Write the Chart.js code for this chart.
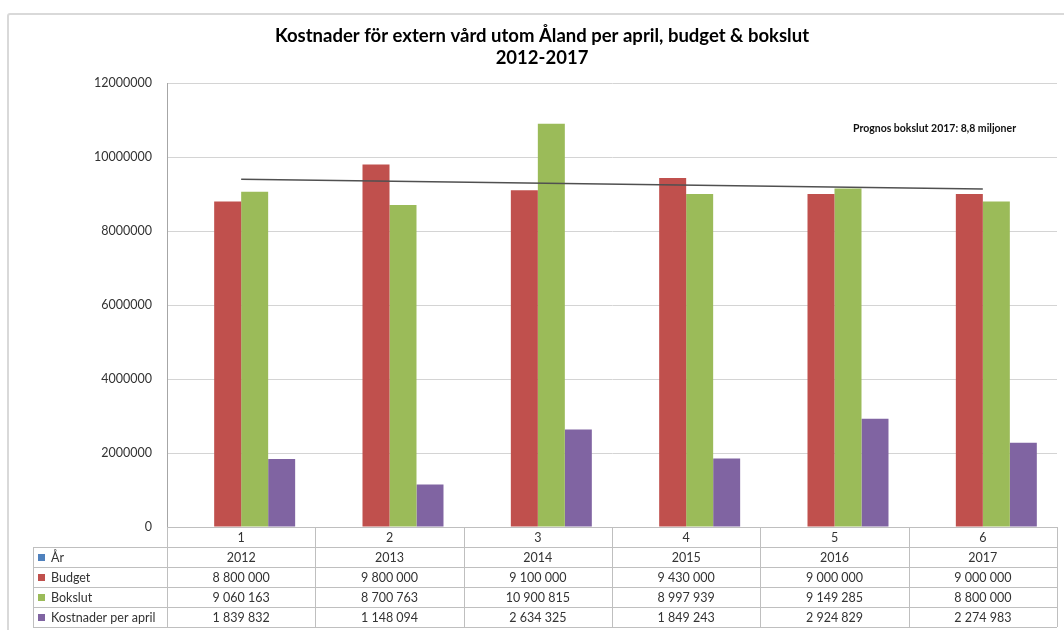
<!DOCTYPE html>
<html>
<head>
<meta charset="utf-8">
<script src="https://cdn.jsdelivr.net/npm/chart.js@4/dist/chart.umd.min.js"></script>
<style>
  body { margin: 0; background: #fff; }
  #wrap { position: relative; width: 1064px; height: 630px; overflow: hidden; }
  #frame { position: absolute; left: 7px; top: 13px; width: 1100px; height: 700px;
           border: 2px solid #d9d9d9; border-radius: 3px; }
  canvas { position: absolute; left: 0; top: 0; }
</style>
</head>
<body>
<div id="wrap">
  <div id="frame"></div>
  <canvas id="kostChart"></canvas>
</div>
<script>
const categories = ['1', '2', '3', '4', '5', '6'];
const years = [2012, 2013, 2014, 2015, 2016, 2017];
const budget = [8800000, 9800000, 9100000, 9430000, 9000000, 9000000];
const bokslut = [9060163, 8700763, 10900815, 8997939, 9149285, 8800000];
const kostnaderApril = [1839832, 1148094, 2634325, 1849243, 2924829, 2274983];
// trend line (start and end only)
const trend = [9400000, null, null, null, null, 9135000];
const yTicks = [0, 2000000, 4000000, 6000000, 8000000, 10000000, 12000000];
const titleLines = ['Kostnader för extern vård utom Åland per april, budget & bokslut', '2012-2017'];

const FONT = 'Lato, "Open Sans", sans-serif';
const fmt = v => String(v).replace(/\B(?=(\d{3})+(?!\d))/g, ' ');

const tablePlugin = {
  id: 'dataTable',
  afterDraw(chart) {
    const ctx = chart.ctx;
    const a = chart.chartArea;
    const cw = (a.right - a.left) / categories.length;
    const rowH = 20;
    const top = a.bottom;
    const left = 33;
    const rows = [
      { label: 'År', color: '#4F81BD', vals: years.map(String) },
      { label: 'Budget', color: '#C0504D', vals: budget.map(fmt) },
      { label: 'Bokslut', color: '#9BBB59', vals: bokslut.map(fmt) },
      { label: 'Kostnader per april', color: '#8064A2', vals: kostnaderApril.map(fmt) }
    ];
    ctx.save();
    ctx.strokeStyle = '#bfbfbf';
    ctx.lineWidth = 1;
    ctx.beginPath();
    ctx.moveTo(a.left, top + 0.5); ctx.lineTo(a.right, top + 0.5);
    for (let r = 1; r <= rows.length + 1; r++) {
      const y = Math.round(top + r * rowH) + 0.5;
      ctx.moveTo(left, y); ctx.lineTo(a.right, y);
    }
    for (let c = 0; c <= categories.length; c++) {
      const x = Math.round(a.left + c * cw) + 0.5;
      ctx.moveTo(x, top); ctx.lineTo(x, top + (rows.length + 1) * rowH);
    }
    ctx.moveTo(left + 0.5, top + rowH); ctx.lineTo(left + 0.5, top + (rows.length + 1) * rowH);
    ctx.stroke();

    ctx.font = '12.5px ' + FONT;
    ctx.fillStyle = '#333';
    ctx.textAlign = 'center';
    ctx.textBaseline = 'middle';
    categories.forEach((c, i) => ctx.fillText(c, a.left + (i + 0.5) * cw, top + rowH / 2 + 1));
    rows.forEach((row, r) => {
      const yMid = top + (r + 1.5) * rowH + 1;
      ctx.fillStyle = row.color;
      ctx.fillRect(left + 5, yMid - 4, 7, 7);
      ctx.fillStyle = '#333';
      ctx.textAlign = 'left';
      ctx.fillText(row.label, left + 18, yMid);
      ctx.textAlign = 'center';
      row.vals.forEach((v, i) => ctx.fillText(v, a.left + (i + 0.5) * cw, yMid));
    });

    // title
    ctx.fillStyle = '#000';
    ctx.font = 'bold 18.5px ' + FONT;
    ctx.fillText(titleLines[0], 542, 36);
    ctx.fillText(titleLines[1], 542, 58);

    ctx.font = 'bold 10.5px ' + FONT;
    ctx.fillStyle = '#111';
    ctx.textAlign = 'left';
    ctx.fillText('Prognos bokslut 2017: 8,8 miljoner', 853, 129);
    ctx.restore();
  }
};

new Chart(document.getElementById('kostChart'), {
  type: 'bar',
  data: {
    labels: categories,
    datasets: [
      // values ~2012 are far too small to be seen on this scale
      { label: 'År', data: years, backgroundColor: 'rgba(79,129,189,0)', order: 2 },
      { label: 'Budget', data: budget, backgroundColor: '#C0504D', order: 2 },
      { label: 'Bokslut', data: bokslut, backgroundColor: '#9BBB59', order: 2 },
      { label: 'Kostnader per april', data: kostnaderApril, backgroundColor: '#8064A2', order: 2 },
      {
        type: 'line', label: 'Trend', data: trend, spanGaps: true,
        borderColor: '#505050', borderWidth: 1.5, pointRadius: 0, fill: false, order: 1
      }
    ]
  },
  options: {
    responsive: true,
    maintainAspectRatio: false,
    animation: false,
    layout: { padding: { left: 0, right: 7, top: 83, bottom: 103 } },
    datasets: { bar: { categoryPercentage: 0.728, barPercentage: 1 } },
    plugins: {
      legend: { display: false },
      tooltip: { enabled: false },
      title: { display: false }
    },
    scales: {
      x: { display: false },
      y: {
        min: 0, max: 12000000,
        afterBuildTicks: s => { s.ticks = yTicks.map(v => ({ value: v })); },
        afterFit: s => { s.width = 167; },
        border: { color: '#a6a6a6' },
        grid: { color: '#d4d4d4', drawTicks: false },
        ticks: { padding: 15, color: '#333', font: { family: FONT, size: 12.5 }, callback: v => String(v) }
      }
    }
  },
  plugins: [tablePlugin]
});
</script>
</body>
</html>
